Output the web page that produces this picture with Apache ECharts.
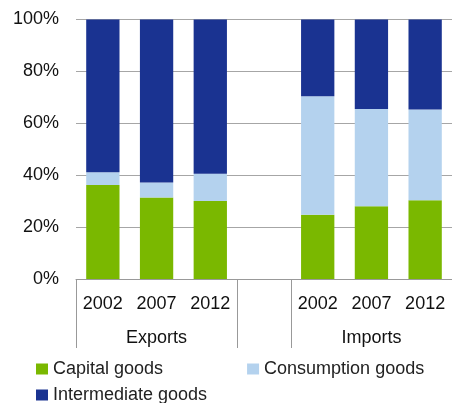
<!DOCTYPE html>
<html><head><meta charset="utf-8">
<script src="https://cdn.jsdelivr.net/npm/echarts@6/dist/echarts.min.js"></script>
<style>html,body{margin:0;padding:0;background:#fff}#c{width:452px;height:403px}</style>
</head><body><div id="c"></div>
<script>
const years = ['2002','2007','2012','','2002','2007','2012'];
const groups = ['','Exports','','','','Imports',''];
const yTicks = [0,20,40,60,80,100];
const capitalGoods = [36.2, 31.4, 30.1, null, 24.8, 28.0, 30.3];
const consumptionGoods = [4.9, 5.8, 10.5, null, 45.6, 37.5, 35.0];
const intermediateGoods = [58.9, 62.8, 59.4, null, 29.6, 34.5, 34.7];

const font = 'Liberation Sans, Arial, sans-serif';
const chart = echarts.init(document.getElementById('c'), null, {renderer:'canvas'});
const sep = new Set([0,3,4]);
chart.setOption({
  animation:false,
  textStyle:{fontFamily:font},
  grid:{left:76, top:19.5, bottom:124, right:-2, containLabel:false},
  xAxis:[{
    type:'category', data:years, position:'bottom',
    axisLine:{show:true, lineStyle:{color:'#999', width:1}},
    axisTick:{show:false},
    axisLabel:{color:'#111', fontSize:18, margin:16, fontFamily:font, interval:0}
  },{
    type:'category', data:groups, position:'bottom', offset:0,
    axisLine:{show:false},
    axisTick:{show:true, length:69, lineStyle:{color:'#999', width:1},
      interval:function(i){return sep.has(i);}},
    axisLabel:{color:'#111', fontSize:18, margin:50, fontFamily:font, interval:0}
  }],
  yAxis:{
    type:'value', min:0, max:100, interval:20,
    axisLine:{show:false}, axisTick:{show:false},
    splitLine:{lineStyle:{color:'#a6a6a6', width:1}},
    axisLabel:{color:'#111', fontSize:18, margin:17, fontFamily:font,
      formatter:function(v){return yTicks.indexOf(v)>=0 ? v+'%' : '';}}
  },
  legend:[{
    data:['Capital goods','Consumption goods'],
    left:31, top:355, itemWidth:12, itemHeight:11, itemGap:84, icon:'rect',
    textStyle:{color:'#222', fontSize:18, fontFamily:font}
  },{
    data:['Intermediate goods'],
    left:31, top:381, itemWidth:12, itemHeight:11, icon:'rect',
    textStyle:{color:'#222', fontSize:18, fontFamily:font}
  }],
  series:[
    {name:'Capital goods', type:'bar', stack:'s', data:capitalGoods, barWidth:'62%', itemStyle:{color:'#7AB800'}},
    {name:'Consumption goods', type:'bar', stack:'s', data:consumptionGoods, itemStyle:{color:'#B4D2EE'}},
    {name:'Intermediate goods', type:'bar', stack:'s', data:intermediateGoods, itemStyle:{color:'#1A3391'}}
  ]
});
</script></body></html>
